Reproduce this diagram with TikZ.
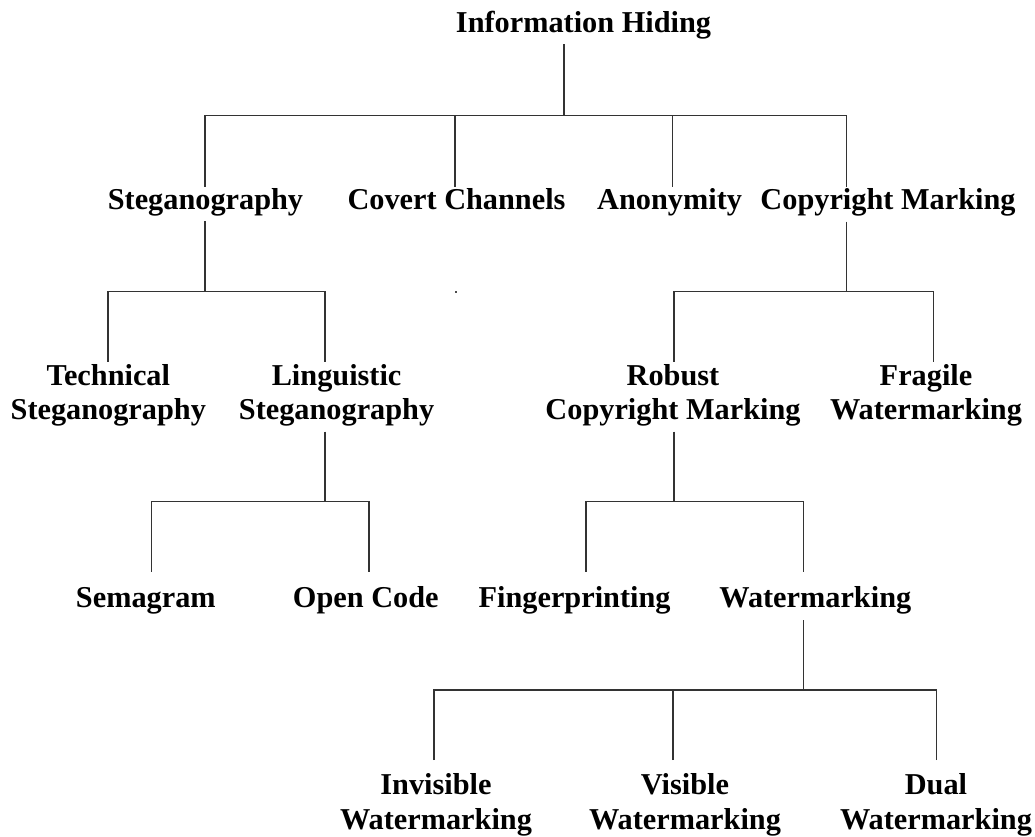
\documentclass[tikz,border=0pt]{standalone}
\usepackage{fontspec}
\setmainfont{Liberation Serif}
\tikzset{
  lbl/.style={font=\bfseries\fontsize{30.3}{34.5}\selectfont, inner sep=0pt, anchor=base, align=center},
  link/.style={draw=black!80, line width=1.3pt},
}
\begin{document}
\begin{tikzpicture}[x=1pt,y=-1pt]
\useasboundingbox (0,0) rectangle (1035,837);

% labels (anchor = baseline of the last line)
\node[lbl] (root)    at (583.5,33)  {Information Hiding};
\node[lbl] (steg)    at (205.5,209) {Steganography};
\node[lbl] (covert)  at (456.5,209) {Covert Channels};
\node[lbl] (anon)    at (669.6,209) {Anonymity};
\node[lbl] (copy)    at (888,209)   {Copyright Marking};
\node[lbl] (tech)    at (108.3,419.5) {Technical\\Steganography};
\node[lbl] (ling)    at (336.6,419.5) {Linguistic\\Steganography};
\node[lbl] (robust)  at (673,419.5)   {Robust\\Copyright Marking};
\node[lbl] (fragile) at (926,419.5)   {Fragile\\Watermarking};
\node[lbl] (sema)    at (145.8,607) {Semagram};
\node[lbl] (open)    at (365.8,607) {Open Code};
\node[lbl] (finger)  at (574.6,607) {Fingerprinting};
\node[lbl] (water)   at (815.3,607) {Watermarking};
\node[lbl] (invis)   at (436,829)   {Invisible\\Watermarking};
\node[lbl] (vis)     at (685,829)   {Visible\\Watermarking};
\node[lbl] (dual)    at (936,829)   {Dual\\Watermarking};

% branch points
\coordinate (root-s) at (564,44.3);
\coordinate (root-j) at (564,115.3);
\coordinate (steg-n) at (205,187);
\coordinate (covert-n) at (455,187);
\coordinate (anon-n) at (672.7,187);
\coordinate (copy-n) at (846.3,187);

\coordinate (steg-s) at (205,221);
\coordinate (steg-j) at (205,291.7);
\coordinate (tech-n) at (108,361.7);
\coordinate (ling-n) at (325,361.7);

\coordinate (copy-s) at (846.3,221.7);
\coordinate (copy-j) at (846.3,291.7);
\coordinate (robust-n) at (674,361.7);
\coordinate (fragile-n) at (933.3,361.7);

\coordinate (ling-s) at (325,431.7);
\coordinate (ling-j) at (325,501.7);
\coordinate (sema-n) at (151.7,571.7);
\coordinate (open-n) at (369,571.7);

\coordinate (robust-s) at (674,431.7);
\coordinate (robust-j) at (674,501.7);
\coordinate (finger-n) at (586,571.7);
\coordinate (water-n) at (803.5,571.7);

\coordinate (water-s) at (803.5,620);
\coordinate (water-j) at (803.5,690);
\coordinate (invis-n) at (434,760);
\coordinate (vis-n) at (673,760);
\coordinate (dual-n) at (936.4,760);

% tree connectors
\draw[link] (root-s) -- (root-j);
\draw[link] (steg-n) |- (root-j);
\draw[link] (copy-n) |- (root-j);
\draw[link] (covert-n) -- (covert-n |- root-j);
\draw[link] (anon-n) -- (anon-n |- root-j);

\draw[link] (steg-s) -- (steg-j);
\draw[link] (tech-n) |- (steg-j);
\draw[link] (ling-n) |- (steg-j);

\draw[link] (copy-s) -- (copy-j);
\draw[link] (robust-n) |- (copy-j);
\draw[link] (fragile-n) |- (copy-j);

\draw[link] (ling-s) -- (ling-j);
\draw[link] (sema-n) |- (ling-j);
\draw[link] (open-n) |- (ling-j);

\draw[link] (robust-s) -- (robust-j);
\draw[link] (finger-n) |- (robust-j);
\draw[link] (water-n) |- (robust-j);

\draw[link] (water-s) -- (water-j);
\draw[link] (invis-n) |- (water-j);
\draw[link] (dual-n) |- (water-j);
\draw[link] (vis-n) -- (vis-n |- water-j);

% small stray mark
\fill[black!70] (454.5,291.2) rectangle (457,292.8);
\end{tikzpicture}
\end{document}
